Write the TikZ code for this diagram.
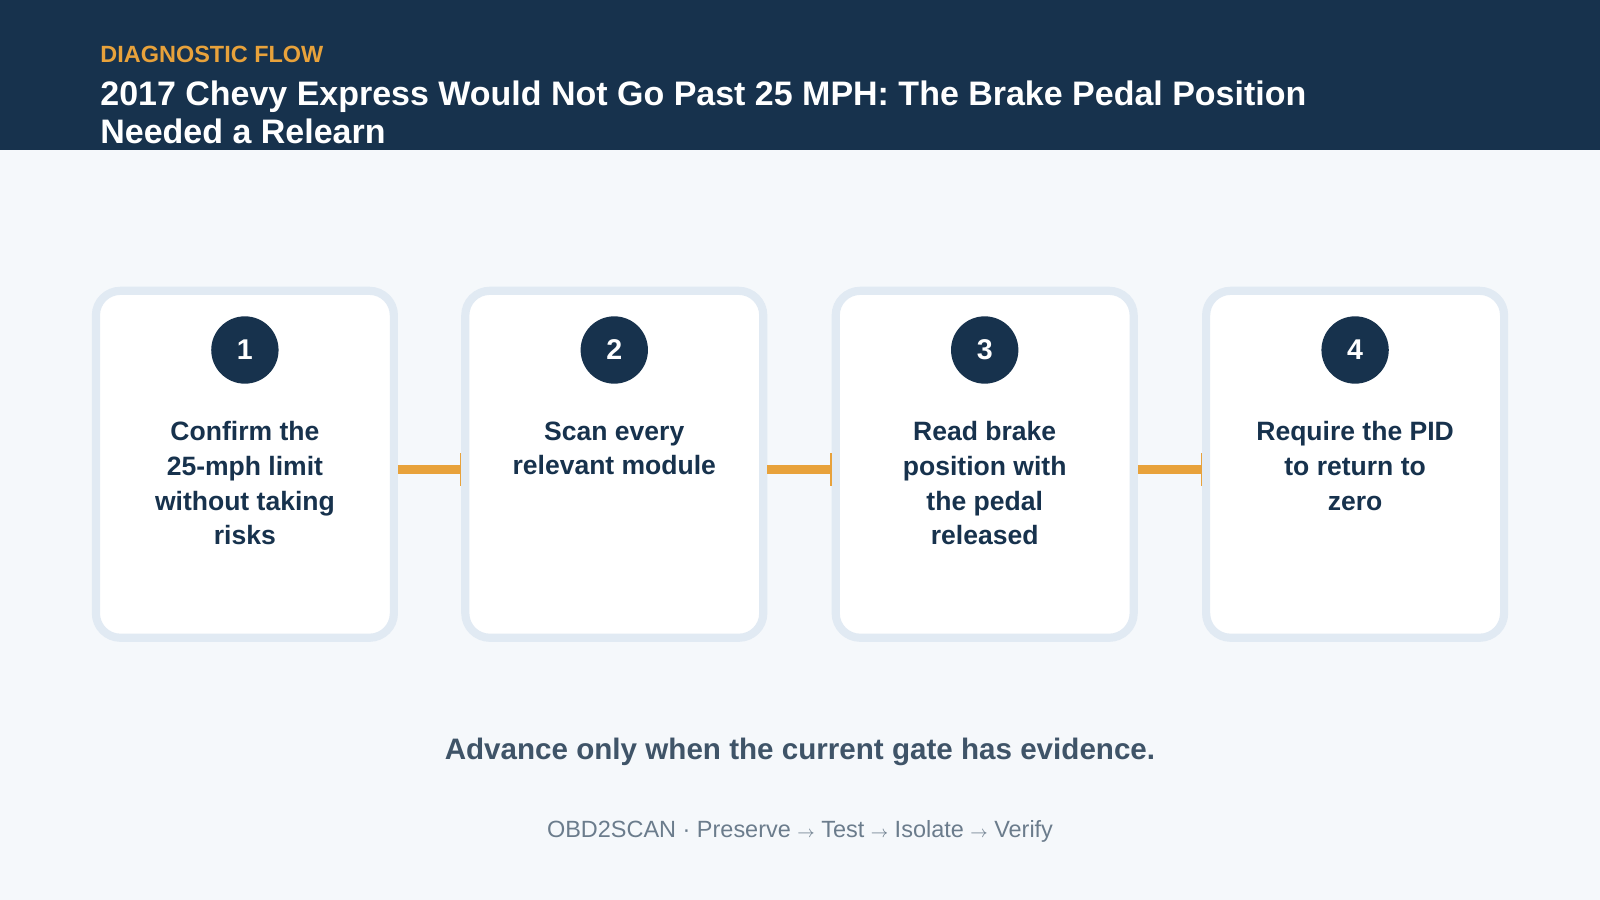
\documentclass[tikz,border=0pt]{standalone}
\usepackage{fontspec}
\setmainfont{Liberation Sans}
\usetikzlibrary{positioning,arrows.meta}
\definecolor{navy}{HTML}{17324D}
\definecolor{flow}{HTML}{E8A23B}
\definecolor{edge}{HTML}{E1EAF3}
\definecolor{paper}{HTML}{F5F8FB}
\definecolor{muted}{HTML}{3F5468}
\definecolor{faint}{HTML}{6B7C8C}
\tikzset{
  card/.style={draw=edge, line width=4pt, fill=white, rounded corners=12pt,
    minimum width=146pt, minimum height=170pt, inner sep=0pt},
  badge/.style={circle, fill=navy, text=white, minimum size=33pt, inner sep=0pt,
    font=\fontsize{14}{16}\selectfont\bfseries},
  steptext/.style={text=navy, align=center,
    font=\fontsize{13}{17}\selectfont\bfseries, anchor=north},
  link/.style={flow, line width=4.5pt, -{Bar[width=16pt,line width=0.6pt]}}
}
\begin{document}
\begin{tikzpicture}[x=0.5pt,y=-0.5pt]
  % Background and header
  \fill[paper] (0,0) rectangle (1568,882);
  \useasboundingbox (0,0) rectangle (1568,882);
  \fill[navy] (0,0) rectangle (1568,147);
  \node[anchor=base west, inner sep=0pt, text=flow, font=\fontsize{11.5}{13}\selectfont\bfseries]
    (kicker) at (98,61) {DIAGNOSTIC FLOW};
  \node[anchor=north west, text=white, align=left, inner sep=0pt,
    font=\fontsize{16.65}{18.5}\selectfont\bfseries] (title) at (98,79)
    {2017 Chevy Express Would Not Go Past 25 MPH: The Brake Pedal Position\\Needed a Relearn};

  % Cards
  \foreach \i/\x/\txt in {1/240/{Confirm the\\25-mph limit\\without taking\\risks},
      2/602/{Scan every\\relevant module},
      3/965/{Read brake\\position with\\the pedal\\released},
      4/1328/{Require the PID\\to return to\\zero}}{
    \node[card] (card\i) at (\x,455) {};
    \node[badge] (num\i) at (\x,343) {\i};
    \node[steptext] (txt\i) at (\x,406) {\txt};
  }

  % Connectors
  \foreach \a/\b in {1/2,2/3,3/4}
    \draw[link] ([yshift=-2.5pt]card\a.east) -- ([yshift=-2.5pt]card\b.west);

  % Footer
  \node[text=muted, font=\fontsize{14.5}{17}\selectfont\bfseries] (note) at (784,737)
    {Advance only when the current gate has evidence.};
  \node[text=faint, font=\fontsize{11.5}{14}\selectfont] (tag) at (784,815)
    {OBD2SCAN · Preserve {\footnotesize$\rightarrow$} Test {\footnotesize$\rightarrow$} Isolate {\footnotesize$\rightarrow$} Verify};
\end{tikzpicture}
\end{document}
